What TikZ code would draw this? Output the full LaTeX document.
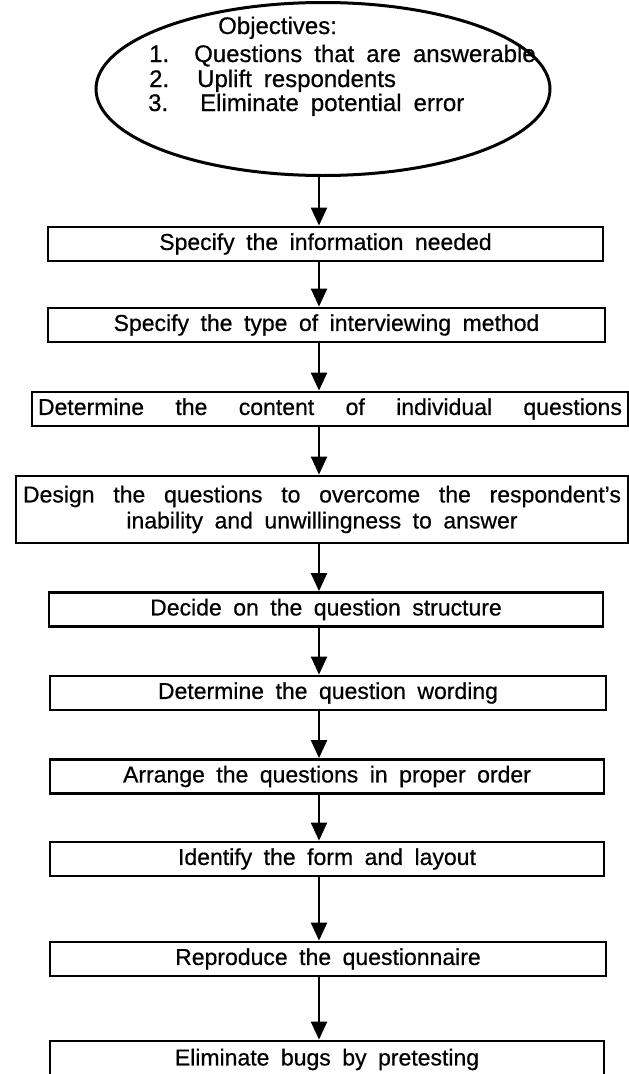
\documentclass[tikz,border=0pt]{standalone}
\usepackage{fontspec}
\setmainfont[WordSpace=1.8,FakeBold=0.6]{Liberation Sans}
\usetikzlibrary{arrows.meta,shapes.geometric}

\begin{document}
\begin{tikzpicture}[>={Triangle[length=18pt,width=16pt]},x=1pt,y=-1pt,
    stepbox/.style={draw,line width=2.8pt,minimum height=34pt,inner sep=0pt,align=center,font=\fontsize{23}{26}\selectfont},
    objline/.style={anchor=base west,inner sep=0pt,font=\fontsize{24}{27}\selectfont}]
  \useasboundingbox (0,0) rectangle (629,1074);
  \coordinate (spine) at (319,0);
  % objectives
  \node[draw,ellipse,line width=3pt,minimum width=454pt,minimum height=173pt] (obj) at (323,89) {};
  \node[objline] (head) at (218,34) {Objectives:};
  \node[objline] (o1) at (149,62) {\makebox[45pt][l]{1.}Questions that are answerable};
  \node[objline] (o2) at (149,87) {\makebox[48pt][l]{2.}Uplift respondents};
  \node[objline] (o3) at (148,111) {\makebox[52pt][l]{3.}Eliminate potential error};
  % steps
  \node[stepbox,minimum width=555pt] (b1) at (325.5,244) {Specify the information needed};
  \node[stepbox,minimum width=557pt] (b2) at (326.5,325) {Specify the type of interviewing method};
  \node[stepbox,minimum width=596pt] (b3) at (330,409) {\makebox[584pt][s]{Determine the content of individual questions}};
  \node[stepbox,minimum width=612pt,minimum height=67pt] (b4) at (322,509.5) {\makebox[598pt][s]{Design the questions to overcome the respondent's}\\inability and unwillingness to answer};
  \node[stepbox,minimum width=554pt] (b5) at (326,609.5) {Decide on the question structure};
  \node[stepbox,minimum width=556pt] (b6) at (328,693) {Determine the question wording};
  \node[stepbox,minimum width=554pt] (b7) at (327,776.5) {Arrange the questions in proper order};
  \node[stepbox,minimum width=554pt] (b8) at (327,859) {Identify the form and layout};
  \node[stepbox,minimum width=556pt] (b9) at (328,959) {Reproduce the questionnaire};
  \node[stepbox,minimum width=554pt,minimum height=37pt] (b10) at (327,1059.5) {Eliminate bugs by pretesting};
  \foreach \a/\b in {obj/b1,b1/b2,b2/b3,b3/b4,b4/b5,b5/b6,b6/b7,b7/b8,b8/b9,b9/b10}
    \draw[->,line width=2.2pt] (\a.south -| spine) -- (\b.north -| spine);
\end{tikzpicture}
\end{document}
